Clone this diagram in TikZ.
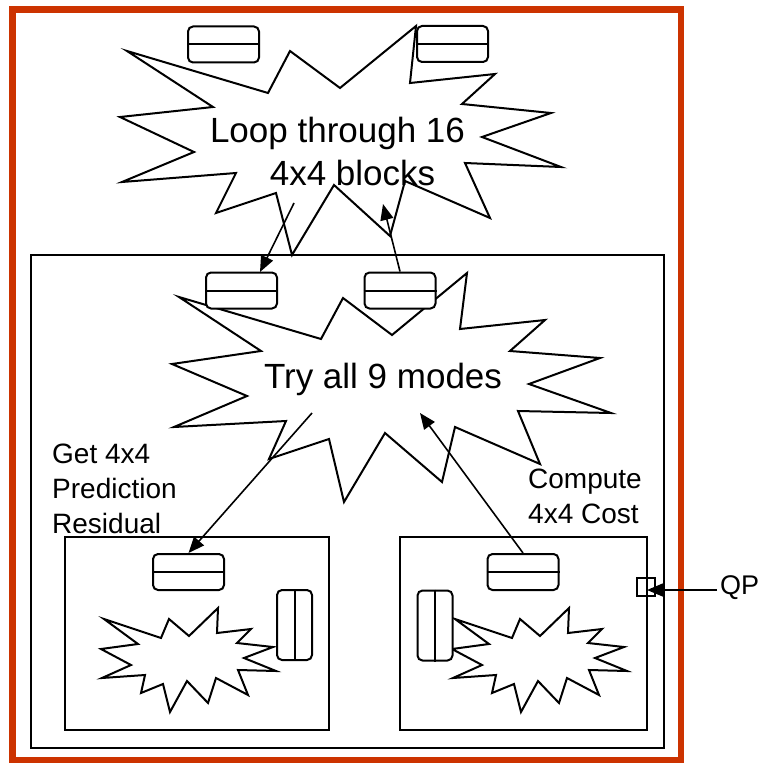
\documentclass[tikz,border=0pt]{standalone}
\usepackage{fontspec}
\setmainfont{Liberation Sans}
\usetikzlibrary{arrows.meta}
\definecolor{frameorange}{RGB}{204,51,0}
\begin{document}
\begin{tikzpicture}[x=1pt,y=-1pt,
  starline/.style={draw=black, line width=2pt, fill=white, line join=miter},
  framebox/.style={draw=black, line width=2pt, inner sep=0pt},
  hbox/.style={draw=black, line width=2pt, rounded corners=5pt, fill=white, minimum width=71pt, minimum height=36pt, inner sep=0pt},
  vbox/.style={draw=black, line width=2pt, rounded corners=5pt, fill=white, minimum width=35pt, minimum height=70pt, inner sep=0pt},
  arr/.style={line width=1.6pt, -{Triangle[length=16pt,width=13pt]}},
  bigtext/.style={font=\fontsize{35}{43}\selectfont, inner sep=0pt},
  lbl/.style={font=\fontsize{28}{35}\selectfont, align=left, inner sep=0pt}
]
\useasboundingbox (0,0) rectangle (760,765);

% orange outer frame
\node[draw=frameorange, line width=6.5pt, minimum width=668.5pt, minimum height=750.5pt, inner sep=0pt] (outer) at (346.75,384.75) {};

% inner frames
\node[framebox, minimum width=633pt, minimum height=493pt] (inner) at (347.5,501.5) {};
\node[framebox, minimum width=264pt, minimum height=193pt] (lbox) at (197,633.5) {};
\node[framebox, minimum width=247pt, minimum height=193pt] (rbox) at (523.5,633.5) {};

% top star
\draw[starline] (127,51) -- (268,93) -- (290,51) -- (340,88) -- (416,26) -- (410,83) -- (495,74) -- (462,104) -- (551,113) -- (482,137) -- (561,167) -- (465,163) -- (490,218) -- (405,181) -- (390,236) -- (334,185) -- (292,255) -- (276,193) -- (216,213) -- (236,173) -- (122,182) -- (194,152) -- (120,117) -- (213,107) -- cycle;

% middle star
\draw[starline] (179,297) -- (321,339) -- (343,298) -- (392,335) -- (467,273) -- (460,329) -- (545,320) -- (510,351) -- (600,358) -- (529,384) -- (611,413) -- (518,411) -- (540,464) -- (455,427) -- (442,482) -- (385,433) -- (344,502) -- (329,439) -- (269,459) -- (286,421) -- (174,427) -- (247,396) -- (172,364) -- (261,351) -- cycle;

% small stars
\foreach \dx in {0,351}{
\draw[starline, shift={(\dx,0)}] (104,619) -- (161,638) -- (169,619) -- (189,636) -- (218,608) -- (217,633) -- (251,629) -- (237,643) -- (273,647) -- (244,658) -- (276,671) -- (238,670) -- (248,695) -- (216,678) -- (208,703) -- (187,681) -- (170,712) -- (163,684) -- (141,693) -- (145,675) -- (102,678) -- (131,665) -- (101,649) -- (138,644) -- cycle;
}

% rounded boxes (horizontal)
\foreach \nm/\px/\py in {tb1/223.5/44.5, tb2/452.5/44, mb1/241.5/290.5, mb2/400/290.5, lb1/188.5/572, rb1/523/572}{
  \node[hbox] (\nm) at (\px,\py) {};
  \draw[line width=2pt] (\nm.west) -- (\nm.east);
}
% rounded boxes (vertical)
\foreach \nm/\px/\py in {lv/294.5/625, rv/435/625.5}{
  \node[vbox] (\nm) at (\px,\py) {};
  \draw[line width=2pt] (\nm.north) -- (\nm.south);
}

% QP port
\node[draw=black, line width=1.5pt, minimum width=18pt, minimum height=18pt, inner sep=0pt] (qpsq) at (646,587) {};

% texts (base anchor = baseline of the last line)
\node[bigtext, align=center, anchor=base] (looptxt) at (337.5,185) {Loop through 16\\\hspace*{30pt}4x4 blocks};
\node[bigtext, anchor=base] (trytxt) at (383,388) {Try all 9 modes};
\node[lbl, anchor=base west] (gettxt) at (52,533) {Get 4x4\\Prediction\\Residual};
\node[lbl, anchor=base west] (comptxt) at (528,523) {Compute\\4x4 Cost};
\node[font=\fontsize{27}{32}\selectfont, anchor=base west, inner sep=0pt] (qp) at (720,594) {QP};

% connector ends
\coordinate (a1) at (294,203);
\coordinate (a2) at (260,272);
\coordinate (b2) at (383,204);
\coordinate (c1) at (312,413);
\coordinate (d2) at (420,413);
\coordinate (qpstart) at (717,590);
\coordinate (qpend) at (647,590);

% arrows
\draw[arr] (a1) -- (a2);
\draw[arr] (mb2.north) -- (b2);
\draw[arr] (c1) -- (lb1.north);
\draw[arr] (rb1.north) -- (d2);
\draw[arr] (qpstart) -- (qpend);
\end{tikzpicture}
\end{document}
